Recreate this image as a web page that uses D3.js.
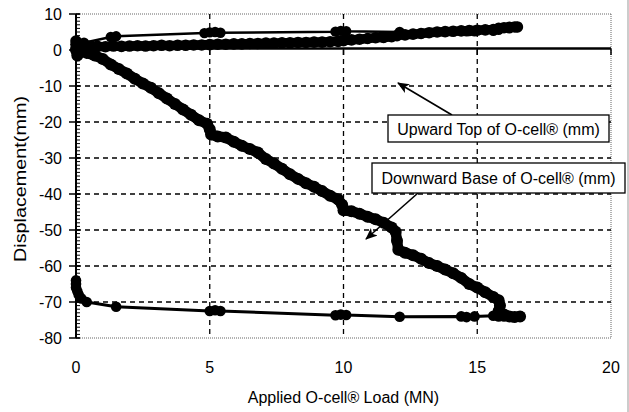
<!DOCTYPE html>
<html>
<head>
<meta charset="utf-8">
<script src="https://cdn.jsdelivr.net/npm/d3@7"></script>
<style>
  body { margin: 0; background: #fff; }
  svg { display: block; }
  text { font-family: "Liberation Sans", Arial, sans-serif; fill: #000; }
</style>
</head>
<body>
<svg id="chart" width="629" height="412"></svg>
<script>
// Axis ticks and titles
const xTicks = [0, 5, 10, 15, 20];
const yTicks = [10, 0, -10, -20, -30, -40, -50, -60, -70, -80];
const xTitle = "Applied O-cell\u00AE Load (MN)";
const yTitle = "Displacement(mm)";
const upLabel = "Upward Top of O-cell\u00AE (mm)";
const downLabel = "Downward Base of O-cell\u00AE (mm)";

// Upward movement of the top plate [load MN, displacement mm]
const upwardLoading = [
  [0.0, 0.3], [0.0, 1.5], [0.0, 2.5], [0.1, -0.5], [0.2, 0.8], [0.5, 1.0], [0.8, 1.0], [1.1, 0.9],
  [1.4, 1.1], [1.7, 1.0],
  [2.0, 1.1], [2.3, 1.2], [2.6, 1.1], [2.9, 1.2], [3.2, 1.3], [3.5, 1.2], [3.8, 1.3],
  [4.1, 1.3], [4.4, 1.4], [4.7, 1.4], [5.0, 1.5], [5.3, 1.6], [5.6, 1.6], [5.9, 1.7],
  [6.2, 1.7], [6.5, 1.8], [6.8, 1.8], [7.1, 1.9], [7.4, 1.9], [7.7, 2.0], [8.0, 2.0],
  [8.3, 2.1], [8.6, 2.1], [8.9, 2.2], [9.2, 2.2], [9.5, 2.3], [9.8, 2.4], [10.0, 2.6],
  [10.3, 2.8], [10.6, 3.0], [10.9, 3.2], [11.2, 3.4], [11.5, 3.5], [11.8, 3.7], [12.0, 4.0],
  [12.3, 4.2], [12.6, 4.4], [12.9, 4.6], [13.2, 4.8], [13.5, 5.0], [13.8, 5.1], [14.1, 5.2],
  [14.4, 5.3], [14.7, 5.4], [15.0, 5.5], [15.3, 5.6], [15.6, 5.7], [15.8, 6.0], [16.0, 6.2],
  [16.2, 6.3], [16.4, 6.4], [16.5, 6.4]
];
const upwardUnloading = [
  [16.5, 6.4], [16.2, 6.0], [15.8, 5.6], [15.6, 5.3], [14.9, 5.2], [14.6, 5.2], [12.1, 5.0],
  [10.1, 5.2], [9.9, 5.3], [9.7, 5.1], [5.4, 4.8], [5.2, 5.0], [5.0, 4.9], [4.8, 4.7],
  [1.5, 3.8], [1.3, 3.6], [0.3, 2.0], [0.0, 1.5]
];

// Downward movement of the base plate [load MN, displacement mm]
const downwardLoading = [
  [0.0, 0.0], [0.05, -1.5], [0.15, -0.4], [0.4, -0.8], [0.7, -1.5], [1.0, -2.5], [1.3, -4.0],
  [1.6, -5.3],
  [1.9, -6.5], [2.2, -8.0], [2.5, -9.3], [2.8, -10.5], [3.1, -12.0], [3.4, -13.5],
  [3.7, -15.0], [4.0, -16.5], [4.3, -18.0], [4.6, -19.5], [4.9, -20.5], [5.0, -22.0],
  [5.05, -23.5], [5.3, -24.0], [5.6, -24.3], [5.9, -25.5], [6.2, -26.6], [6.5, -27.5],
  [6.8, -28.5], [7.1, -30.3], [7.4, -31.5], [7.7, -33.0], [8.0, -34.5], [8.3, -35.8],
  [8.6, -37.0], [8.9, -38.0], [9.2, -39.2], [9.5, -40.5], [9.8, -41.5], [9.95, -43.0],
  [10.0, -44.5], [10.3, -44.8], [10.6, -45.5], [10.9, -46.3], [11.2, -47.0], [11.5, -48.0],
  [11.8, -49.3], [11.95, -50.5], [12.0, -53.0], [12.05, -55.5], [12.3, -56.3], [12.6, -57.0],
  [12.9, -58.0], [13.2, -59.2], [13.5, -60.0], [13.8, -61.0], [14.1, -62.0], [14.4, -63.3],
  [14.7, -65.0], [15.0, -66.0], [15.3, -67.3], [15.6, -68.6], [15.8, -69.5], [15.85, -71.0],
  [15.8, -72.5], [16.0, -73.5], [16.2, -74.0], [16.4, -74.2], [16.6, -74.0]
];
const downwardUnloading = [
  [16.6, -74.0], [16.3, -74.2], [16.0, -74.0], [15.8, -74.0], [15.6, -73.8], [14.9, -74.0],
  [14.6, -74.2], [14.4, -74.0], [12.1, -74.1], [10.1, -73.6], [9.9, -73.5], [9.7, -73.7],
  [5.4, -72.5], [5.2, -72.3], [5.0, -72.5], [1.5, -71.3], [0.4, -70.0], [0.2, -69.0],
  [0.1, -68.0], [0.05, -67.0], [0.0, -66.0], [0.0, -65.0], [0.0, -64.0]
];

const svg = d3.select("#chart");
const x = d3.scaleLinear().domain([0, 20]).range([76, 611]);
const y = d3.scaleLinear().domain([-80, 10]).range([338, 14]);

// Plot frame (dotted)
const frame = svg.append("g").attr("stroke", "#666").attr("stroke-width", 1)
  .attr("stroke-dasharray", "1,1").attr("fill", "none");
frame.append("line").attr("x1", x(0)).attr("x2", x(20)).attr("y1", y(10)).attr("y2", y(10));
frame.append("line").attr("x1", x(0)).attr("x2", x(20)).attr("y1", y(-80)).attr("y2", y(-80));
frame.append("line").attr("x1", x(20)).attr("x2", x(20)).attr("y1", y(10)).attr("y2", y(-80));

// outer chart edge
svg.append("line").attr("x1", 628).attr("x2", 628).attr("y1", 0).attr("y2", 412)
  .attr("stroke", "#999").attr("stroke-width", 1);

// Dashed gridlines
const grid = svg.append("g").attr("stroke", "#000").attr("stroke-width", 1.3)
  .attr("stroke-dasharray", "5,4");
grid.selectAll(".gh").data(yTicks.filter(v => v < 0 && v > -80)).join("line")
  .attr("x1", x(0)).attr("x2", x(20)).attr("y1", d => y(d)).attr("y2", d => y(d));
grid.selectAll(".gv").data(xTicks.filter(v => v > 0 && v < 20)).join("line")
  .attr("y1", y(10)).attr("y2", y(-80)).attr("x1", d => x(d)).attr("x2", d => x(d));

// Horizontal axis line through zero, with its major ticks
svg.append("line").attr("x1", x(0)).attr("x2", x(20)).attr("y1", y(0) - 1.5).attr("y2", y(0) - 1.5)
  .attr("stroke", "#000").attr("stroke-width", 2.5);
svg.append("g").selectAll("line").data(xTicks).join("line")
  .attr("x1", d => x(d)).attr("x2", d => x(d)).attr("y1", y(0) - 1.5).attr("y2", y(0) + 5)
  .attr("stroke", "#000").attr("stroke-width", 1.5);

// Vertical axis with minor ticks every millimetre
const yAxis = svg.append("g");
yAxis.append("line").attr("x1", x(0)).attr("x2", x(0)).attr("y1", y(10)).attr("y2", y(-80))
  .attr("stroke", "#000").attr("stroke-width", 2);
yAxis.selectAll(".minor").data(y.ticks(90)).join("line")
  .attr("x1", x(0)).attr("x2", x(0) + 4).attr("y1", d => y(d)).attr("y2", d => y(d))
  .attr("stroke", "#000").attr("stroke-width", 1);
yAxis.selectAll(".major").data(yTicks).join("line")
  .attr("x1", x(0) - 7).attr("x2", x(0) + 4).attr("y1", d => y(d)).attr("y2", d => y(d))
  .attr("stroke", "#000").attr("stroke-width", 1.5);

// Tick labels
svg.append("g").selectAll("text").data(yTicks).join("text")
  .attr("x", 62).attr("y", d => y(d) + 6).attr("text-anchor", "end")
  .attr("font-size", 16).text(d => d);
svg.append("g").selectAll("text").data(xTicks).join("text")
  .attr("x", d => x(d)).attr("y", 373).attr("text-anchor", "middle")
  .attr("font-size", 16).text(d => d);

// Axis titles
svg.append("text").attr("x", (x(0) + x(20)) / 2).attr("y", 403).attr("text-anchor", "middle")
  .attr("font-size", 16).text(xTitle);
svg.append("text").attr("transform", "translate(26,179) rotate(-90)").attr("text-anchor", "middle")
  .attr("font-size", 16).attr("textLength", 166).attr("lengthAdjust", "spacingAndGlyphs")
  .text(yTitle);

// Series: line + filled markers
const line = d3.line().x(d => x(d[0])).y(d => y(d[1]));
function drawSeries(data, width, r) {
  const g = svg.append("g");
  g.append("path").datum(data).attr("d", line).attr("fill", "none")
    .attr("stroke", "#000").attr("stroke-width", width)
    .attr("stroke-linejoin", "round").attr("stroke-linecap", "round");
  g.selectAll("circle").data(data).join("circle")
    .attr("cx", d => x(d[0])).attr("cy", d => y(d[1])).attr("r", r).attr("fill", "#000");
}
drawSeries(upwardLoading, 9.5, 5.8);
drawSeries(upwardUnloading, 2.5, 5.2);
drawSeries(downwardLoading, 10.5, 6);
drawSeries(downwardUnloading, 3, 5.3);

// Callout labels with arrows
svg.append("defs").append("marker").attr("id", "head")
  .attr("viewBox", "0 0 12 10").attr("refX", 11).attr("refY", 5)
  .attr("markerWidth", 12).attr("markerHeight", 10).attr("markerUnits", "userSpaceOnUse")
  .attr("orient", "auto")
  .append("path").attr("d", "M0,0 L12,5 L0,10 L3,5 Z").attr("fill", "#000");

function callout(box, text, from, to) {
  svg.append("line").attr("x1", from[0]).attr("y1", from[1]).attr("x2", to[0]).attr("y2", to[1])
    .attr("stroke", "#000").attr("stroke-width", 1.6).attr("marker-end", "url(#head)");
  svg.append("rect").attr("x", box[0]).attr("y", box[1]).attr("width", box[2]).attr("height", box[3])
    .attr("fill", "#fff").attr("stroke", "#000").attr("stroke-width", 1.3);
  svg.append("text").attr("x", box[0] + box[2] / 2).attr("y", box[1] + box[3] / 2 + 6)
    .attr("text-anchor", "middle").attr("font-size", 16).text(text);
}
callout([388, 115, 221, 27], upLabel, [452, 115], [398, 83]);
callout([372, 163, 253, 30], downLabel, [418, 193], [366, 239]);
</script>
</body>
</html>
